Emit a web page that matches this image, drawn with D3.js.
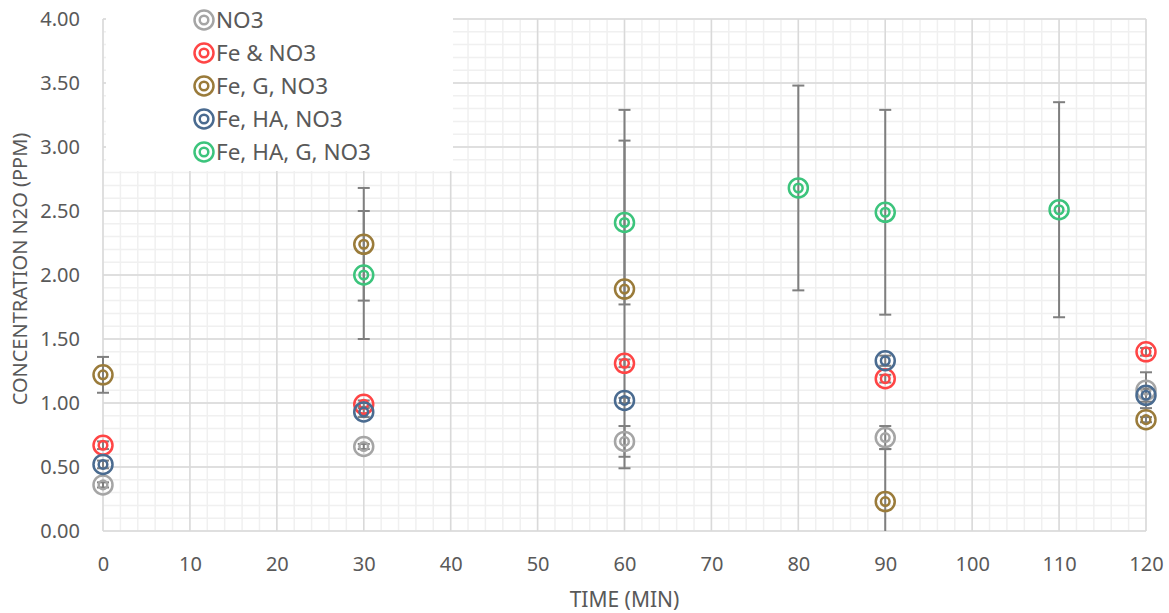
<!DOCTYPE html>
<html lang="en">
<meta charset="UTF-8">
<script src="https://cdn.jsdelivr.net/npm/d3@7"></script>
<head>
    <style>
        body { margin: 0; background: #fff; }
        text { font-family: "Noto Sans", sans-serif; fill: #595959; }
    </style>
</head>
<body>
<div id="chart"></div>
<script>
    // time points (min)
    const times = [0, 30, 60, 80, 90, 110, 120];

    const seriesNames = ["NO3", "Fe & NO3", "Fe, G, NO3", "Fe, HA, NO3", "Fe, HA, G, NO3"];
    const seriesColors = ["#a5a5a5", "#ff4545", "#9a7b3a", "#4a6b90", "#3cc47c"];

    // concentrations N2O (ppm), null = not measured
    const no3      = [0.36, 0.66, 0.70, null, 0.73, null, 1.10];
    const feNo3    = [0.67, 0.99, 1.31, null, 1.19, null, 1.40];
    const feGNo3   = [1.22, 2.24, 1.89, null, 0.23, null, 0.87];
    const feHaNo3  = [0.52, 0.93, 1.02, null, 1.33, null, 1.06];
    const feHaGNo3 = [null, 2.00, 2.41, 2.68, 2.49, 2.51, null];

    // error bar half widths
    const no3Err      = [0.02, 0.02, 0.12, null, 0.09, null, 0.14];
    const feNo3Err    = [0.03, 0.03, 0.03, null, 0.03, null, 0.03];
    const feGNo3Err   = [0.14, 0.44, 1.40, null, 0.41, null, 0.02];
    const feHaNo3Err  = [0.03, 0.04, 0.02, null, 0.04, null, 0.05];
    const feHaGNo3Err = [null, 0.50, 0.64, 0.80, 0.80, 0.84, null];

    const xTicks = d3.range(0, 121, 10);
    const yTicks = d3.range(0, 4.01, 0.5);

    const values = [no3, feNo3, feGNo3, feHaNo3, feHaGNo3];
    const errors = [no3Err, feNo3Err, feGNo3Err, feHaNo3Err, feHaGNo3Err];

    const width = 1169, height = 613;
    const margin = {left: 103, right: 23, top: 19, bottom: 82};

    const svg = d3.select("#chart").append("svg")
        .attr("width", width)
        .attr("height", height);

    const x = d3.scaleLinear().domain([0, 120]).range([margin.left, width - margin.right]);
    const y = d3.scaleLinear().domain([0, 4]).range([height - margin.bottom, margin.top]);

    // minor grid
    const grid = svg.append("g");
    grid.selectAll(".mx").data(d3.range(0, 121, 2)).join("line")
        .attr("x1", d => x(d)).attr("x2", d => x(d))
        .attr("y1", y(0)).attr("y2", y(4))
        .attr("stroke", "#f0f0f0").attr("stroke-width", 1.5);
    grid.selectAll(".my").data(d3.range(0, 40.1, 1).map(d => d / 10)).join("line")
        .attr("x1", x(0)).attr("x2", x(120))
        .attr("y1", d => y(d)).attr("y2", d => y(d))
        .attr("stroke", "#f0f0f0").attr("stroke-width", 1.5);

    // major grid
    grid.append("g").selectAll("line").data(xTicks).join("line")
        .attr("x1", d => x(d)).attr("x2", d => x(d))
        .attr("y1", y(0)).attr("y2", y(4))
        .attr("stroke", "#d9d9d9").attr("stroke-width", 1.5);
    grid.append("g").selectAll("line").data(yTicks).join("line")
        .attr("x1", x(0)).attr("x2", x(120))
        .attr("y1", d => y(d)).attr("y2", d => y(d))
        .attr("stroke", "#d9d9d9").attr("stroke-width", 1.5);

    // axes (labels only)
    const xAxis = svg.append("g")
        .attr("transform", `translate(0,${y(0)})`)
        .call(d3.axisBottom(x).tickValues(xTicks).tickSize(0).tickPadding(26));
    const yAxis = svg.append("g")
        .attr("transform", `translate(${x(0)},0)`)
        .call(d3.axisLeft(y).tickValues(yTicks).tickFormat(d3.format(".2f")).tickSize(0).tickPadding(23));
    [xAxis, yAxis].forEach(a => {
        a.select(".domain").remove();
        a.selectAll("text").style("font-size", "20px").attr("fill", "#595959");
    });

    // error bars
    const points = [];
    values.forEach((vals, s) => {
        vals.forEach((v, i) => {
            if (v !== null) points.push({s: s, t: times[i], v: v, e: errors[s][i]});
        });
    });

    const eb = svg.append("g").attr("stroke", "#7f7f7f").attr("stroke-width", 2);
    points.forEach(p => {
        const lo = p.v - p.e, hi = p.v + p.e;
        eb.append("line")
            .attr("x1", x(p.t)).attr("x2", x(p.t))
            .attr("y1", y(Math.max(lo, 0))).attr("y2", y(hi));
        eb.append("line")
            .attr("x1", x(p.t) - 6).attr("x2", x(p.t) + 6)
            .attr("y1", y(hi)).attr("y2", y(hi));
        if (lo >= 0) {
            eb.append("line")
                .attr("x1", x(p.t) - 6).attr("x2", x(p.t) + 6)
                .attr("y1", y(lo)).attr("y2", y(lo));
        }
    });

    // markers
    function marker(g, cx, cy, color) {
        g.append("circle").attr("cx", cx).attr("cy", cy).attr("r", 9.5)
            .attr("fill", "none").attr("stroke", color).attr("stroke-width", 2.5);
        g.append("circle").attr("cx", cx).attr("cy", cy).attr("r", 4.3)
            .attr("fill", "none").attr("stroke", color).attr("stroke-width", 2.5);
    }
    const mk = svg.append("g");
    points.forEach(p => marker(mk, x(p.t), y(p.v), seriesColors[p.s]));

    // legend (white box over the grid)
    const legend = svg.append("g");
    legend.append("rect")
        .attr("x", 106).attr("y", 0).attr("width", 347).attr("height", 171)
        .attr("fill", "#fff");
    seriesNames.forEach((name, i) => {
        const cy = 20 + i * 33;
        marker(legend, 204, cy, seriesColors[i]);
        legend.append("text")
            .attr("x", 216).attr("y", cy + 8)
            .style("font-size", "22.5px")
            .text(name);
    });

    // axis titles
    svg.append("text")
        .attr("x", (x(0) + x(120)) / 2).attr("y", 607)
        .attr("text-anchor", "middle")
        .style("font-size", "21px")
        .text("TIME (MIN)");
    svg.append("text")
        .attr("transform", `translate(27,${(y(0) + y(4)) / 2 - 6}) rotate(-90)`)
        .attr("text-anchor", "middle")
        .style("font-size", "20px")
        .text("CONCENTRATION N2O (PPM)");
</script>
</body>
</html>
